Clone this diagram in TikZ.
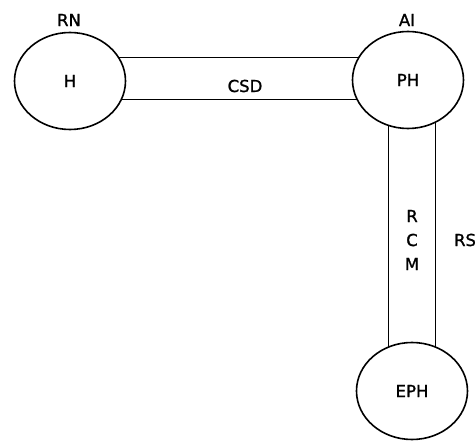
\documentclass[tikz,border=0pt]{standalone}
\usepackage{fontspec}
\setmainfont{DejaVu Sans}[BoldFont={DejaVu Sans},BoldFeatures={FakeBold=1.2}]
\usetikzlibrary{shapes.geometric}
\usetikzlibrary{backgrounds}

\begin{document}
\begin{tikzpicture}[x=1pt,y=-1pt,line width=1.6pt]
  \tikzset{state/.style = {shape=ellipse,draw,fill=white,minimum width=111pt,minimum height=97pt,inner sep=0pt,font=\fontsize{16.5}{18}\selectfont\bfseries}}
  \tikzset{tag/.style = {font=\fontsize{16.5}{24}\selectfont\bfseries,inner sep=0pt}}
  \useasboundingbox (0,0) rectangle (475,441);

	\node[state] (H) at (70,81) {H};
	\node[state] (PH) at (408,80) {PH};
	\node[state] (EPH) at (412,391) {EPH};

	\node[tag] (RN) at (69,20) {RN};
	\node[tag] (AI) at (407,20) {AI};
	\node[tag] (CSD) at (245,86) {CSD};
	\node[tag,align=center] (RCM) at (412,240) {R\\C\\M};
	\node[tag] (RS) at (465,240) {RS};

  \begin{scope}[on background layer]
    \foreach \dy in {-21,21}
      \draw ([yshift=-\dy pt+3pt]H.center) -- ([yshift=-\dy pt+3pt]H.center -| PH.center);
    \foreach \dx in {-20,27}
      \draw ([xshift=\dx pt]PH.center) -- ([xshift=\dx pt]PH.center |- EPH.center);
  \end{scope}
\end{tikzpicture}
\end{document}
